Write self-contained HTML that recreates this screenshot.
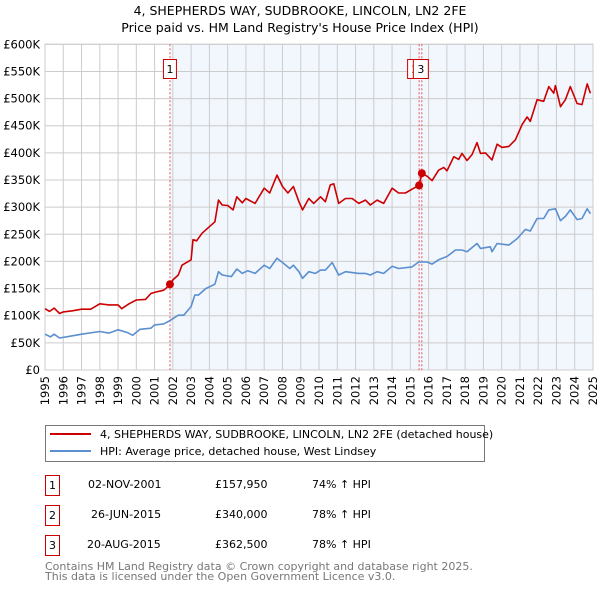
<!DOCTYPE html>
<html><head><meta charset="utf-8"><style>
body{margin:0;background:#fff;font-family:"DejaVu Sans","Liberation Sans",sans-serif;}
svg text{font-family:"DejaVu Sans","Liberation Sans",sans-serif;}
</style></head><body>
<svg id="c" width="600" height="590" xmlns="http://www.w3.org/2000/svg">
<text x="300" y="15" text-anchor="middle" font-size="12.5">4, SHEPHERDS WAY, SUDBROOKE, LINCOLN, LN2 2FE</text>
<text x="300" y="32" text-anchor="middle" font-size="12.5">Price paid vs. HM Land Registry's House Price Index (HPI)</text>
<g id="plot"></g>
<g>
<rect x="45.5" y="425.5" width="439" height="36" fill="#fff" stroke="#777"/>
<line x1="50" y1="434" x2="91" y2="434" stroke="#cc0000" stroke-width="2"/>
<text x="100" y="438" font-size="11">4, SHEPHERDS WAY, SUDBROOKE, LINCOLN, LN2 2FE (detached house)</text>
<line x1="50" y1="451" x2="91" y2="451" stroke="#5b8fd0" stroke-width="2"/>
<text x="100" y="455" font-size="11">HPI: Average price, detached house, West Lindsey</text>
</g>
<g font-size="11">
<rect x="45.5" y="475.5" width="14" height="20" fill="#fff" stroke="#cc0000"/><text x="52.5" y="489" text-anchor="middle">1</text>
<text x="88" y="488">02-NOV-2001</text><text x="215" y="488">£157,950</text><text x="312" y="488">74% ↑ HPI</text>
<rect x="45.5" y="505.5" width="14" height="20" fill="#fff" stroke="#cc0000"/><text x="52.5" y="519" text-anchor="middle">2</text>
<text x="91" y="518">26-JUN-2015</text><text x="215" y="518">£340,000</text><text x="312" y="518">78% ↑ HPI</text>
<rect x="45.5" y="535.5" width="14" height="20" fill="#fff" stroke="#cc0000"/><text x="52.5" y="549" text-anchor="middle">3</text>
<text x="87" y="548">20-AUG-2015</text><text x="215" y="548">£362,500</text><text x="312" y="548">78% ↑ HPI</text>
</g>
<text x="45" y="570" font-size="11" fill="#777">Contains HM Land Registry data © Crown copyright and database right 2025.</text>
<text x="45" y="580" font-size="11" fill="#777">This data is licensed under the Open Government Licence v3.0.</text>
</svg>
<script>
const yTicks=[0,50,100,150,200,250,300,350,400,450,500,550,600];
const yTickLabels=["£0","£50K","£100K","£150K","£200K","£250K","£300K","£350K","£400K","£450K","£500K","£550K","£600K"];
const xYears=[1995,1996,1997,1998,1999,2000,2001,2002,2003,2004,2005,2006,2007,2008,2009,2010,2011,2012,2013,2014,2015,2016,2017,2018,2019,2020,2021,2022,2023,2024,2025];
const redYears=[1995,1995.25,1995.5,1995.8,1996,1996.5,1997,1997.5,1998,1998.5,1999,1999.2,1999.6,2000,2000.5,2000.8,2001,2001.5,2001.84,2002,2002.3,2002.5,2003,2003.1,2003.3,2003.6,2004,2004.3,2004.5,2004.7,2005,2005.3,2005.5,2005.8,2006,2006.5,2007,2007.3,2007.7,2008,2008.3,2008.6,2008.9,2009.1,2009.44,2009.71,2010.08,2010.35,2010.62,2010.81,2011.08,2011.45,2011.81,2012.18,2012.54,2012.81,2013.18,2013.54,2014.0,2014.36,2014.73,2015.09,2015.48,2015.63,2015.92,2016.19,2016.55,2016.83,2017.01,2017.38,2017.65,2017.83,2018.1,2018.38,2018.65,2018.84,2019.11,2019.47,2019.75,2020.02,2020.39,2020.75,2021.12,2021.39,2021.57,2021.94,2022.3,2022.58,2022.85,2022.94,2023.22,2023.49,2023.76,2024.13,2024.4,2024.68,2024.86];
const redValues=[113,108,114,104,107,109,112,112,122,120,120,113,122,129,130,141,143,147,157,166,175,193,203,240,238,252,264,273,313,304,303,295,319,308,316,307,335,326,359,338,326,338,310,295,316,307,319,310,341,343,307,316,316,307,313,304,313,307,335,326,326,333,340,362,357,349,368,373,367,393,388,399,386,397,419,399,400,387,416,410,412,424,452,466,458,498,495,522,510,524,485,498,522,491,489,527,510];
const hpiYears=[1995,1995.3,1995.5,1995.8,1996.5,1997,1998,1998.5,1999,1999.5,1999.8,2000.2,2000.8,2001,2001.5,2001.84,2002.3,2002.6,2003,2003.2,2003.4,2003.8,2004.3,2004.5,2004.7,2005.2,2005.5,2005.8,2006.1,2006.5,2007,2007.3,2007.7,2008,2008.4,2008.6,2008.9,2009.1,2009.44,2009.8,2010.08,2010.35,2010.72,2011.08,2011.45,2012.18,2012.54,2012.81,2013.18,2013.54,2014.0,2014.36,2015.09,2015.46,2015.92,2016.19,2016.55,2017.01,2017.47,2017.83,2018.1,2018.65,2018.84,2019.38,2019.47,2019.75,2020.39,2020.85,2021.3,2021.57,2021.94,2022.3,2022.58,2022.94,2023.22,2023.49,2023.76,2024.13,2024.4,2024.68,2024.86];
const hpiValues=[66,61,66,59,63,66,71,68,74,69,64,75,77,83,85,91,101,101,117,138,138,150,158,181,175,172,186,178,183,178,193,187,206,198,187,193,181,169,181,178,184,184,198,175,181,178,178,175,181,178,191,187,190,199,199,195,203,209,221,221,218,233,224,227,218,233,230,242,259,256,279,279,295,297,275,283,295,277,279,297,288];
const saleYears=[2001.84,2015.48,2015.63];
const saleValues=[157.95,340,362.5];
const saleLabels=["1","2","3"];

const NS="http://www.w3.org/2000/svg";
const X0=45,X1=593,Y0=370,Y1=44.3;
const xs=y=>X0+(y-1995)/30*(X1-X0);
const ys=v=>Y0-v/600*(Y0-Y1);
const g=document.getElementById('plot');
function mk(t,a,p){const e=document.createElementNS(NS,t);for(const k in a)e.setAttribute(k,a[k]);(p||g).appendChild(e);return e;}
const shade=mk('rect',{x:xs(saleYears[0]),y:Y1,width:X1-xs(saleYears[0]),height:Y0-Y1,fill:'#eef3fc',opacity:0.75});


yTicks.forEach((v,i)=>{
  const l=mk('line',{x1:X0,x2:X1,y1:ys(v),y2:ys(v),stroke:'#cccccc','stroke-width':1});
  
  
  const t=mk('text',{x:40,y:ys(v)+4,'text-anchor':'end','font-size':11.5});
  t.textContent=yTickLabels[i];
  
  
});
xYears.forEach(yr=>{
  const l=mk('line',{x1:xs(yr),x2:xs(yr),y1:Y1,y2:Y0,stroke:'#cccccc','stroke-width':1});
  
  
  const t=mk('text',{x:0,y:0,'text-anchor':'end','font-size':11.5,transform:`translate(${xs(yr)+4},376) rotate(-90)`});
  t.textContent=yr;
  
  
});
const fr=mk('rect',{x:X0,y:Y1,width:X1-X0,height:Y0-Y1,fill:'none',stroke:'#cccccc'});


saleYears.forEach((yr,i)=>{
  const l=mk('line',{x1:xs(yr),x2:xs(yr),y1:Y1,y2:Y0,stroke:'#ee5555','stroke-width':1,'stroke-dasharray':'2,2'});
  
  
});
function path(xsArr,vs,col,name){
  const d=xsArr.map((yr,i)=>(i?'L':'M')+xs(yr).toFixed(1)+','+ys(vs[i]).toFixed(1)).join('');
  const p=mk('path',{d:d,fill:'none',stroke:col,'stroke-width':1.6,'stroke-linejoin':'round'});
  
  
}
path(hpiYears,hpiValues,'#5b8fd0','hpi-line');
path(redYears,redValues,'#cc0000','property-price-line');
saleYears.forEach((yr,i)=>{
  const c=mk('circle',{cx:xs(yr),cy:ys(saleValues[i]),r:4,fill:'#cc0000'});
  
  
});
[0,1,2].forEach(i=>{
  const off=[0,-4,-1][i];
  const cx=xs(saleYears[i])+off;
  const w=i===0?13:15;
  const r=mk('rect',{x:cx-w/2,y:59.5,width:w,height:19,fill:'#fff',stroke:'#cc0000'});
  
  
  const t=mk('text',{x:cx,y:73,'text-anchor':'middle','font-size':11});
  t.textContent=saleLabels[i];
  
  
});
</script>
</body></html>
